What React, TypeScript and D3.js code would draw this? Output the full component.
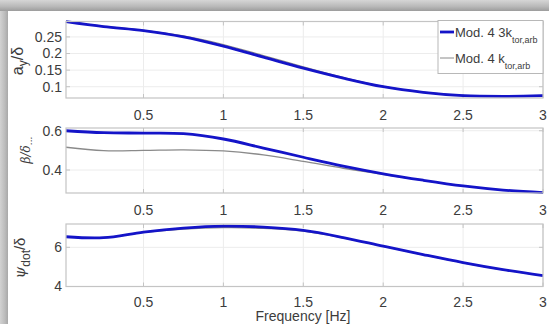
import React from "react";
import * as d3 from "d3";

const freq = [0.015, 0.25, 0.5, 0.75, 1.0, 1.25, 1.5, 1.75, 2.0, 2.25, 2.5, 2.75, 3.0];
const ayBlue = [0.296, 0.281, 0.269, 0.25, 0.222, 0.189, 0.156, 0.126, 0.1, 0.083, 0.073, 0.071, 0.073];
const ayGray = [0.297, 0.282, 0.27, 0.253, 0.227, 0.194, 0.16, 0.128, 0.101, 0.084, 0.074, 0.072, 0.074];
const betaBlue = [0.6, 0.59, 0.588, 0.585, 0.558, 0.512, 0.465, 0.42, 0.381, 0.348, 0.319, 0.298, 0.285];
const betaGray = [0.516, 0.499, 0.5, 0.503, 0.497, 0.477, 0.444, 0.409, 0.378, 0.347, 0.319, 0.298, 0.285];
const psiBlue = [6.54, 6.49, 6.78, 6.98, 7.08, 7.03, 6.86, 6.5, 6.06, 5.63, 5.22, 4.86, 4.55];
const psiGray = [6.54, 6.49, 6.76, 6.93, 7.0, 6.97, 6.83, 6.48, 6.05, 5.62, 5.21, 4.85, 4.55];

const xTicks = [0.5, 1, 1.5, 2, 2.5, 3];
const xTickLabels = ["0.5", "1", "1.5", "2", "2.5", "3"];
const ayTicks = [0.1, 0.15, 0.2, 0.25];
const betaTicks = [0.4, 0.6];
const psiTicks = [4, 6];
const legendLabels = ["Mod. 4 3k", "Mod. 4 k"];
const legendSub = "tor,arb";

const W = 549;
const H = 324;
const L = 66;
const R = 543;
const BLUE = "#1414c8";
const GRAY = "#8a8a8a";
const AXIS = "#c4c4c4";
const GRID = "#ececec";
const TXT = "#3c3c3c";
const FONT = "'Liberation Sans', Arial, sans-serif";

const x = d3.scaleLinear().domain([0.015, 3]).range([L, R]);

type PanelProps = {
  top: number;
  bottom: number;
  domain: [number, number];
  ticks: number[];
  fmt: (v: number) => string;
  blue: number[];
  gray: number[];
  labelOffset: number;
};

function Panel({ top, bottom, domain, ticks, fmt, blue, gray, labelOffset }: PanelProps) {
  const y = d3.scaleLinear().domain(domain).range([bottom, top]);
  const line = d3
    .line<number>()
    .x((_, i) => x(freq[i]))
    .y((d) => y(d))
    .curve(d3.curveCatmullRom.alpha(0.5));
  return (
    <g>
      <rect x={L} y={top} width={R - L} height={bottom - top} fill="#fff" />
      {xTicks.map((t) => (
        <line key={"gx" + t} x1={x(t)} x2={x(t)} y1={top} y2={bottom} stroke={GRID} strokeWidth={1} />
      ))}
      {ticks.map((t) => (
        <line key={"gy" + t} x1={L} x2={R} y1={y(t)} y2={y(t)} stroke={GRID} strokeWidth={1} />
      ))}
      {xTicks.map((t) => (
        <g key={"tx" + t}>
          <line x1={x(t)} x2={x(t)} y1={bottom} y2={bottom - 4} stroke={AXIS} />
          <line x1={x(t)} x2={x(t)} y1={top} y2={top + 4} stroke={AXIS} />
        </g>
      ))}
      {ticks.map((t) => (
        <g key={"ty" + t}>
          <line x1={L} x2={L + 4} y1={y(t)} y2={y(t)} stroke={AXIS} />
          <line x1={R} x2={R - 4} y1={y(t)} y2={y(t)} stroke={AXIS} />
          <text x={62} y={y(t)} dy="0.35em" textAnchor="end" fontSize={14} fill={TXT} fontFamily={FONT}>
            {fmt(t)}
          </text>
        </g>
      ))}
      {xTicks.map((t, i) => (
        <text key={"lx" + t} x={x(t)} y={bottom + labelOffset} textAnchor="middle" fontSize={14} fill={TXT} fontFamily={FONT}>
          {xTickLabels[i]}
        </text>
      ))}
      <path d={line(gray) || ""} fill="none" stroke={GRAY} strokeWidth={1.3} />
      <path d={line(blue) || ""} fill="none" stroke={BLUE} strokeWidth={2.8} />
      <rect x={L} y={top} width={R - L} height={bottom - top} fill="none" stroke={AXIS} strokeWidth={1.2} />
    </g>
  );
}

export default function App() {
  return (
    <svg width={W} height={H} style={{ display: "block", position: "absolute", left: 0, top: 0 }}>
      <defs>
        <linearGradient id="topband" x1="0" y1="0" x2="0" y2="1">
          <stop offset="0" stopColor="#d6d6d6" />
          <stop offset="0.6" stopColor="#b8b8b8" />
          <stop offset="1" stopColor="#9c9c9c" />
        </linearGradient>
        <linearGradient id="leftband" x1="0" y1="0" x2="1" y2="0">
          <stop offset="0" stopColor="#d2d2d2" />
          <stop offset="0.6" stopColor="#bcbcbc" />
          <stop offset="1" stopColor="#a8a8a8" />
        </linearGradient>
      </defs>
      <rect x={0} y={0} width={W} height={H} fill="#fff" />
      <rect x={0} y={0} width={8} height={H} fill="url(#leftband)" />
      <rect x={0} y={0} width={W} height={11} fill="url(#topband)" />

      <Panel top={21.5} bottom={98} domain={[0.066, 0.2965]} ticks={ayTicks} fmt={(v) => String(v)} blue={ayBlue} gray={ayGray} labelOffset={22} />
      <Panel top={128} bottom={193} domain={[0.283, 0.614]} ticks={betaTicks} fmt={(v) => String(v)} blue={betaBlue} gray={betaGray} labelOffset={22} />
      <Panel top={224} bottom={286.5} domain={[4, 7.19]} ticks={psiTicks} fmt={(v) => String(v)} blue={psiBlue} gray={psiGray} labelOffset={20} />

      {/* y labels */}
      <text transform="translate(23,61) rotate(-90)" textAnchor="middle" fontSize={16} fill={TXT} fontFamily={FONT}>
        a<tspan fontSize={12} dy={4}>y</tspan>
        <tspan dy={-4}>/δ</tspan>
      </text>
      <text transform="translate(30,150) rotate(-90)" textAnchor="middle" fontSize={12} fontStyle="italic" fill={TXT} fontFamily="'DejaVu Serif', serif">
        β/δ<tspan fontSize={9} dy={2}>...</tspan>
      </text>
      <text transform="translate(25,258) rotate(-90)" textAnchor="middle" fontSize={15} fill={TXT} fontFamily="'DejaVu Serif', serif">
        <tspan fontStyle="italic">ψ</tspan>
        <tspan fontSize={12} dy={5} fontFamily={FONT}>dot</tspan>
        <tspan dy={-5} fontFamily={FONT}>/δ</tspan>
      </text>

      <text x={303} y={321} textAnchor="middle" fontSize={14} fill={TXT} fontFamily={FONT}>
        Frequency [Hz]
      </text>

      {/* legend */}
      <g>
        <rect x={438} y={20.5} width={105} height={53} fill="#fff" stroke="#b8b8b8" strokeWidth={1} />
        <line x1={440} x2={454} y1={32} y2={32} stroke={BLUE} strokeWidth={2.8} />
        <text x={455} y={32} dy="0.35em" fontSize={13} fill={TXT} fontFamily={FONT}>
          {legendLabels[0]}
          <tspan fontSize={9} dy={6}>{legendSub}</tspan>
        </text>
        <line x1={440} x2={454} y1={58} y2={58} stroke={GRAY} strokeWidth={1} />
        <text x={455} y={58} dy="0.35em" fontSize={13} fill={TXT} fontFamily={FONT}>
          {legendLabels[1]}
          <tspan fontSize={9} dy={6}>{legendSub}</tspan>
        </text>
      </g>
    </svg>
  );
}
